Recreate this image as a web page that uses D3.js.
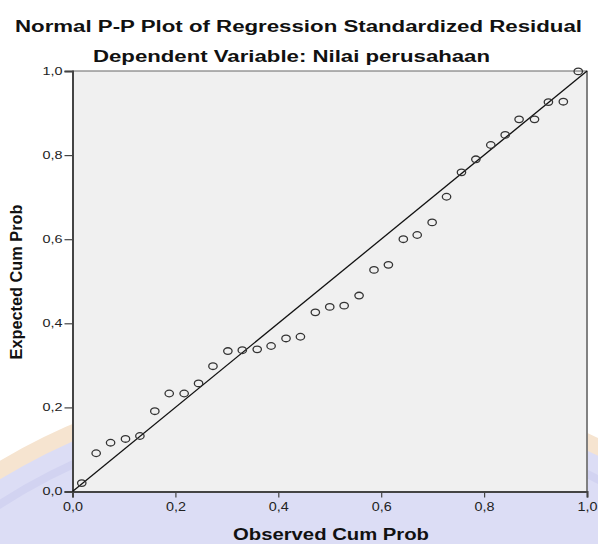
<!DOCTYPE html>
<html><head><meta charset="utf-8">
<script src="https://cdn.jsdelivr.net/npm/d3@7"></script>
<style>body{margin:0;background:#fff;} svg{display:block;font-family:"Liberation Sans",Arial,sans-serif;}</style>
</head><body><svg id="c" width="598" height="544"></svg>
<script>
// Data
const observed = [0.018,0.046,0.074,0.103,0.131,0.160,0.188,0.217,0.245,0.273,0.302,0.330,0.359,0.386,0.415,0.443,0.472,0.500,0.528,0.557,0.586,0.614,0.643,0.670,0.699,0.727,0.756,0.784,0.813,0.841,0.868,0.898,0.925,0.954,0.983];
const expected = [0.020,0.091,0.116,0.125,0.132,0.191,0.233,0.233,0.257,0.298,0.334,0.336,0.338,0.346,0.364,0.368,0.426,0.439,0.442,0.466,0.527,0.539,0.600,0.610,0.640,0.701,0.759,0.790,0.824,0.848,0.885,0.885,0.926,0.927,0.999];
const tickValues = [0,0.2,0.4,0.6,0.8,1.0];
const tickLabels = ["0,0","0,2","0,4","0,6","0,8","1,0"];
const titleText = "Normal P-P Plot of Regression Standardized Residual";
const subtitleText = "Dependent Variable: Nilai perusahaan";
const xLabelText = "Observed Cum Prob";
const yLabelText = "Expected Cum Prob";

const W = 598, H = 544;
const m = {left: 72.5, right: 11, top: 71, bottom: 52.5};
const svg = d3.select("#c");

// faint background watermark (seal)
const wm = svg.append("g");
wm.append("circle").attr("cx", 320).attr("cy", 1000).attr("r", 619)
  .attr("fill", "#dcddf5").attr("stroke", "#f6e4d0").attr("stroke-width", 16);
wm.append("circle").attr("cx", 320).attr("cy", 1000).attr("r", 590)
  .attr("fill", "none").attr("stroke", "#d2d3f1").attr("stroke-width", 8);

const x = d3.scaleLinear().domain([0, 1]).range([m.left, W - m.right]);
const y = d3.scaleLinear().domain([0, 1]).range([H - m.bottom, m.top]);

// plot background
svg.append("rect").attr("x", x(0)).attr("y", y(1))
  .attr("width", x(1) - x(0)).attr("height", y(0) - y(1))
  .attr("fill", "#f0f0f0").attr("stroke", "#666").attr("stroke-width", 1);
svg.append("line").attr("x1", x(1)).attr("x2", x(1)).attr("y1", y(1)).attr("y2", y(0))
  .attr("stroke", "#777").attr("stroke-width", 1.6);

const fmt = d => tickLabels[tickValues.indexOf(d)];

const yAxis = svg.append("g").attr("transform", `translate(${x(0)},0)`)
  .call(d3.axisLeft(y).tickValues(tickValues).tickFormat(fmt).tickSize(8).tickPadding(2));
yAxis.select(".domain").attr("stroke", "#444").attr("stroke-width", 2);
yAxis.selectAll(".tick line").attr("stroke", "#444").attr("stroke-width", 1.2);
yAxis.selectAll(".tick text").attr("font-size", 10).attr("fill", "#222")
  .attr("font-family", "'Liberation Sans',Arial,sans-serif")
  .attr("textLength", 20).attr("lengthAdjust", "spacingAndGlyphs");

const xAxis = svg.append("g").attr("transform", `translate(0,${y(0)})`)
  .call(d3.axisBottom(x).tickValues(tickValues).tickFormat(fmt).tickSize(6).tickPadding(5));
xAxis.select(".domain").attr("stroke", "#444").attr("stroke-width", 2);
xAxis.selectAll(".tick line").attr("stroke", "#444").attr("stroke-width", 1.2);
xAxis.selectAll(".tick text").attr("font-size", 12).attr("fill", "#222")
  .attr("font-family", "'Liberation Sans',Arial,sans-serif")
  .attr("textLength", 20).attr("lengthAdjust", "spacingAndGlyphs");

// reference diagonal
svg.append("line").attr("x1", x(0)).attr("y1", y(0)).attr("x2", x(1)).attr("y2", y(1))
  .attr("stroke", "#111").attr("stroke-width", 1.3);

// points
svg.append("g").selectAll("ellipse").data(observed.map((o, i) => [o, expected[i]]))
  .join("ellipse")
  .attr("cx", d => x(d[0])).attr("cy", d => y(d[1]))
  .attr("rx", 4.2).attr("ry", 3.3)
  .attr("fill", "none").attr("stroke", "#333").attr("stroke-width", 1.3);

// titles
svg.append("text").attr("x", 298.5).attr("y", 31.7).attr("text-anchor", "middle")
  .attr("font-size", 16).attr("font-weight", "bold").attr("fill", "#111")
  .attr("textLength", 567).attr("lengthAdjust", "spacingAndGlyphs").text(titleText);
svg.append("text").attr("x", 291.5).attr("y", 61.7).attr("text-anchor", "middle")
  .attr("font-size", 16).attr("font-weight", "bold").attr("fill", "#111")
  .attr("textLength", 397).attr("lengthAdjust", "spacingAndGlyphs").text(subtitleText);
svg.append("text").attr("x", 331).attr("y", 540).attr("text-anchor", "middle")
  .attr("font-size", 16).attr("font-weight", "bold").attr("fill", "#111")
  .attr("textLength", 196).attr("lengthAdjust", "spacingAndGlyphs").text(xLabelText);
svg.append("text").attr("transform", "translate(22,282) rotate(-90)").attr("text-anchor", "middle")
  .attr("font-size", 16).attr("font-weight", "bold").attr("fill", "#111")
  .attr("textLength", 155).attr("lengthAdjust", "spacingAndGlyphs").text(yLabelText);
</script></body></html>
